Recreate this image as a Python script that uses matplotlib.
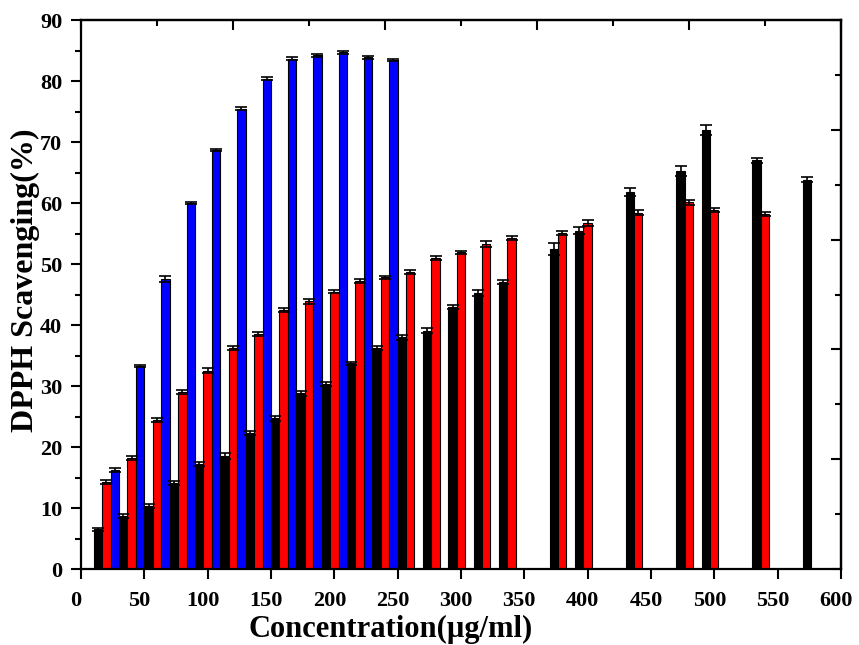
import matplotlib
matplotlib.use("Agg")
import matplotlib.pyplot as plt
from matplotlib.ticker import MultipleLocator, NullFormatter
from matplotlib.transforms import ScaledTranslation
import numpy as np

plt.rcParams['font.family'] = ['Liberation Serif', 'DejaVu Serif']
plt.rcParams['font.weight'] = 'bold'

# Data
conc_black = [20, 40, 60, 80, 100, 120, 140, 160, 180, 200, 220, 240, 260, 280, 300, 320, 340,
              380, 400, 440, 480, 500, 540, 580]
black_vals = [6.5, 8.7, 10.3, 14.1, 17.2, 18.5, 22.3, 24.7, 28.8, 30.3, 33.7, 36.2, 38.0, 39.1,
              43.0, 45.3, 47.1, 52.5, 55.5, 61.8, 65.3, 72.0, 67.0, 63.8]
black_err = [0.3, 0.3, 0.3, 0.3, 0.3, 0.5, 0.3, 0.4, 0.4, 0.3, 0.3, 0.3, 0.4, 0.4,
             0.3, 0.5, 0.3, 1.0, 0.5, 0.7, 0.8, 0.8, 0.4, 0.4]

conc_red = [20, 40, 60, 80, 100, 120, 140, 160, 180, 200, 220, 240, 260, 280, 300, 320, 340,
            380, 400, 440, 480, 500, 540]
red_vals = [14.3, 18.2, 24.4, 29.0, 32.5, 36.2, 38.5, 42.5, 43.9, 45.5, 47.2, 47.8, 48.7, 51.0,
            51.9, 53.3, 54.3, 55.1, 56.7, 58.4, 60.1, 58.9, 58.2]
red_err = [0.3, 0.3, 0.3, 0.3, 0.4, 0.3, 0.3, 0.3, 0.4, 0.3, 0.3, 0.3, 0.4, 0.3,
           0.3, 0.5, 0.3, 0.4, 0.5, 0.4, 0.4, 0.3, 0.3]

conc_blue = [20, 40, 60, 80, 100, 120, 140, 160, 180, 200, 220, 240]
blue_vals = [16.2, 33.3, 47.6, 60.0, 68.7, 75.5, 80.4, 83.7, 84.2, 84.7, 83.9, 83.5]
blue_err = [0.3, 0.2, 0.5, 0.2, 0.2, 0.2, 0.2, 0.2, 0.2, 0.2, 0.2, 0.2]

width = 6.6
offset = 6.6

fig = plt.figure(figsize=(8.59, 6.45), dpi=100)
ax = fig.add_axes([0.0943, 0.1178, 0.8847, 0.851])

ekw = dict(ecolor='black', elinewidth=1.2, capsize=4, capthick=1.2)
ax.bar(np.array(conc_black) - offset, black_vals, width=width, color='black',
       edgecolor='black', linewidth=0.8, yerr=black_err, error_kw=ekw)
ax.bar(np.array(conc_red), red_vals, width=width, color='#FF0000',
       edgecolor='black', linewidth=0.8, yerr=red_err, error_kw=ekw)
ax.bar(np.array(conc_blue) + offset, blue_vals, width=width, color='#0000FF',
       edgecolor='black', linewidth=0.8, yerr=blue_err, error_kw=ekw)

ax.set_xlim(0, 600)
ax.set_ylim(0, 90)
ax.xaxis.set_major_locator(MultipleLocator(50))
ax.yaxis.set_major_locator(MultipleLocator(10))
ax.yaxis.set_minor_locator(MultipleLocator(5))
ax.tick_params(axis='both', which='major', direction='out', length=7, width=1.5,
               labelsize=16, top=False, right=False)
ax.tick_params(axis='x', which='major', pad=9)
ax.tick_params(axis='y', which='major', pad=6.5)
ax.tick_params(axis='y', which='minor', direction='out', length=4, width=1.5)

shift = ScaledTranslation(-5 / 100.0, 0, fig.dpi_scale_trans)
for lab in ax.get_xticklabels():
    lab.set_fontweight('bold')
    lab.set_transform(lab.get_transform() + shift)
for lab in ax.get_yticklabels():
    lab.set_fontweight('bold')

for sp in ax.spines.values():
    sp.set_linewidth(1.6)

# Top and right axes (unlabeled, 0-100 scale)
secx = ax.secondary_xaxis('top', functions=(lambda x: x / 6.0, lambda x: x * 6.0))
secx.xaxis.set_major_locator(MultipleLocator(20))
secx.xaxis.set_minor_locator(MultipleLocator(10))
secx.xaxis.set_major_formatter(NullFormatter())
secx.tick_params(which='major', direction='in', length=7, width=1.5)
secx.tick_params(which='minor', direction='in', length=4, width=1.5)
secx.spines['top'].set_linewidth(1.6)

secy = ax.secondary_yaxis('right', functions=(lambda y: y * 100 / 90.0, lambda y: y * 90 / 100.0))
secy.yaxis.set_major_locator(MultipleLocator(20))
secy.yaxis.set_minor_locator(MultipleLocator(10))
secy.yaxis.set_major_formatter(NullFormatter())
secy.tick_params(which='major', direction='in', length=7, width=1.5)
secy.tick_params(which='minor', direction='in', length=4, width=1.5)
secy.spines['right'].set_linewidth(1.6)

ax.set_xlabel('Concentration(µg/ml)', fontsize=22, fontweight='bold')
ax.set_ylabel('DPPH Scavenging(%)', fontsize=23, fontweight='bold')
ax.xaxis.set_label_coords(0.408, -0.084)
ax.yaxis.set_label_coords(-0.054, 0.526)

fig.savefig('out.png', dpi=100)
